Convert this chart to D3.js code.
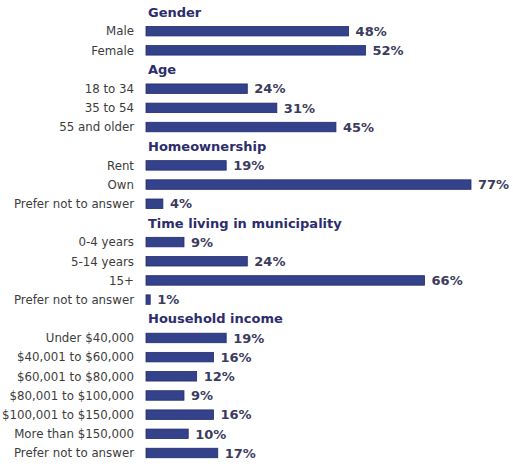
<!DOCTYPE html>
<html>
<head>
<meta charset="utf-8">
<script src="https://cdn.jsdelivr.net/npm/d3@7"></script>
<style>
  html, body { margin: 0; padding: 0; background: #fff; }
  svg { display: block; }
</style>
</head>
<body>
<svg id="chart" width="513" height="464"></svg>
<script>
const groups = ["Gender", "Age", "Homeownership", "Time living in municipality", "Household income"];
const genderLabels = ["Male", "Female"];
const genderValues = [48, 52];
const ageLabels = ["18 to 34", "35 to 54", "55 and older"];
const ageValues = [24, 31, 45];
const homeLabels = ["Rent", "Own", "Prefer not to answer"];
const homeValues = [19, 77, 4];
const timeLabels = ["0-4 years", "5-14 years", "15+", "Prefer not to answer"];
const timeValues = [9, 24, 66, 1];
const incomeLabels = ["Under $40,000", "$40,001 to $60,000", "$60,001 to $80,000", "$80,001 to $100,000", "$100,001 to $150,000", "More than $150,000", "Prefer not to answer"];
const incomeValues = [19, 16, 12, 9, 16, 10, 17];

const groupLabels = [genderLabels, ageLabels, homeLabels, timeLabels, incomeLabels];
const groupValues = [genderValues, ageValues, homeValues, timeValues, incomeValues];

// build rows
const rows = [];
groups.forEach((g, gi) => {
  rows.push({ key: "h" + gi, type: "header", label: g });
  groupLabels[gi].forEach((l, i) => {
    rows.push({ key: "r" + gi + "_" + i, type: "bar", label: l, value: groupValues[gi][i] });
  });
});

const svg = d3.select("#chart");
const x = d3.scaleLinear().domain([0, 77]).range([146, 471]);
const y = d3.scalePoint().domain(rows.map(d => d.key)).range([12, 453]);
const barH = 9.5;
const fontFam = "'DejaVu Sans', Verdana, sans-serif";

const headers = rows.filter(d => d.type === "header");
const bars = rows.filter(d => d.type === "bar");

svg.selectAll("text.header").data(headers).join("text")
  .attr("class", "header")
  .attr("x", x(0) + 2)
  .attr("y", d => y(d.key))
  .attr("dy", "0.36em")
  .attr("font-family", fontFam)
  .attr("font-weight", "bold")
  .attr("font-size", 13)
  .attr("fill", "#2c2d6c")
  .text(d => d.label);

svg.selectAll("text.label").data(bars).join("text")
  .attr("class", "label")
  .attr("x", 134)
  .attr("y", d => y(d.key))
  .attr("dy", "0.36em")
  .attr("text-anchor", "end")
  .attr("font-family", fontFam)
  .attr("font-size", 11.8)
  .attr("fill", "#3c3c3c")
  .text(d => d.label);

svg.selectAll("rect.bar").data(bars).join("rect")
  .attr("class", "bar")
  .attr("x", x(0))
  .attr("y", d => y(d.key) - barH / 2)
  .attr("width", d => x(d.value) - x(0))
  .attr("height", barH)
  .attr("fill", "#34418b")
  .attr("stroke", "#232c6c")
  .attr("stroke-width", 0.8);

svg.selectAll("text.value").data(bars).join("text")
  .attr("class", "value")
  .attr("x", d => x(d.value) + 7)
  .attr("y", d => y(d.key))
  .attr("dy", "0.36em")
  .attr("font-family", fontFam)
  .attr("font-weight", "bold")
  .attr("font-size", 13)
  .attr("fill", "#3b3b5e")
  .text(d => d.value + "%");
</script>
</body>
</html>
